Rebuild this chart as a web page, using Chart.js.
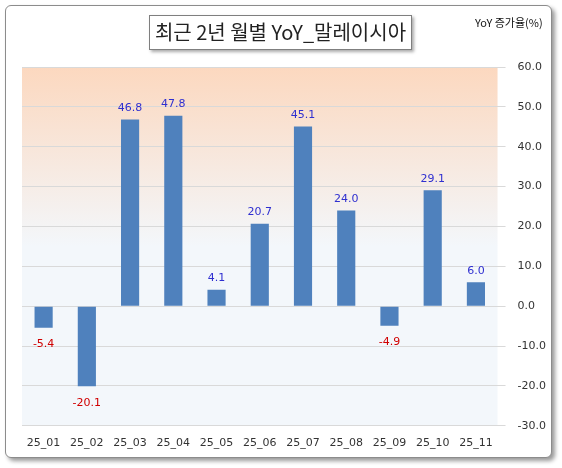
<!DOCTYPE html><html><head><meta charset="utf-8">
<script src="https://cdn.jsdelivr.net/npm/chart.js@4"></script>
<style>
html,body{margin:0;padding:0;background:#fff;}
#wrap{position:absolute;left:5px;top:5px;width:545px;height:451px;border:1px solid #8c8c8c;border-radius:6px;box-shadow:3px 3px 4px #999;background:#fff;}
#title{position:absolute;left:149px;top:15px;width:261px;height:33px;border:1px solid #7f7f7f;box-shadow:2px 2px 3px #aaa;background:#fff;font:20px "Noto Sans CJK KR";text-align:center;line-height:32px;color:#222;z-index:2;}
#unit{position:absolute;left:475px;top:14px;font:11px "Noto Sans CJK KR";color:#111;z-index:2;}
canvas{position:absolute;left:0;top:0;}
</style></head><body>
<div id="wrap"></div>
<div id="title">최근 2년 월별 YoY_말레이시아</div>
<div id="unit">YoY 증가율(%)</div>
<canvas id="c" width="562" height="468"></canvas>
<script>
const categories=["25_01","25_02","25_03","25_04","25_05","25_06","25_07","25_08","25_09","25_10","25_11"];
const values=[-5.4,-20.1,46.8,47.8,4.1,20.7,45.1,24.0,-4.9,29.1,6.0];
const bgPlugin={id:'bg',beforeDraw(ch){const {ctx,chartArea:a}=ch;const g=ctx.createLinearGradient(0,a.top,0,a.bottom);g.addColorStop(0,'#fcd8bf');g.addColorStop(0.5,'#f3f7fb');g.addColorStop(1,'#f3f7fb');ctx.save();ctx.fillStyle=g;ctx.fillRect(a.left,a.top,a.right-a.left,a.bottom-a.top);ctx.restore();}};
const lblPlugin={id:'lbl',afterDatasetsDraw(ch){const ctx=ch.ctx;const m=ch.getDatasetMeta(0);ctx.save();ctx.font='11px "DejaVu Sans"';ctx.textAlign='center';m.data.forEach((b,i)=>{const v=values[i];if(v>=0){ctx.fillStyle='#2f2fd0';ctx.textBaseline='bottom';ctx.fillText(v.toFixed(1),b.x,b.y-6);}else{ctx.fillStyle='#d00000';ctx.textBaseline='top';ctx.fillText(v.toFixed(1),b.x,b.y+11);}});ctx.restore();}};
new Chart(document.getElementById('c'),{type:'bar',data:{labels:categories,datasets:[{data:values,backgroundColor:'#4f81bd',barPercentage:0.42,categoryPercentage:1}]},
options:{responsive:false,animation:false,layout:{padding:{left:22,right:4,top:67,bottom:15}},plugins:{legend:{display:false},tooltip:{enabled:false}},
scales:{x:{grid:{display:false},border:{display:false},ticks:{color:'#333',font:{size:11,family:'DejaVu Sans'}}},
y:{position:'right',min:-30,max:60,ticks:{stepSize:10,color:'#333',font:{size:11,family:'DejaVu Sans'},callback:v=>v.toFixed(1),padding:12},grid:{color:'#d9d9d9'},border:{display:false}}}},plugins:[bgPlugin,lblPlugin]});
</script></body></html>
